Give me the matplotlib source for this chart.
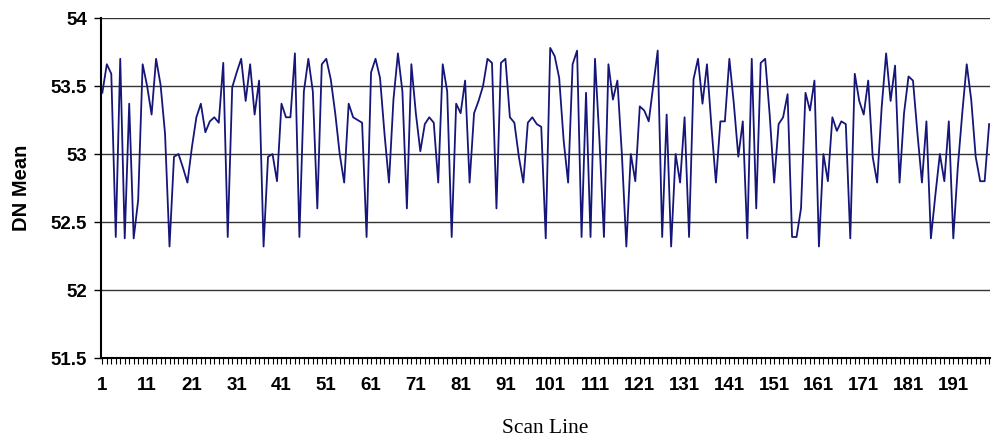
import matplotlib
matplotlib.use("Agg")
import matplotlib.pyplot as plt
import numpy as np

# DN mean per scan line
dn_mean = [
    53.45, 53.66, 53.59, 52.39, 53.70, 52.38, 53.37, 52.38, 52.66, 53.66,   # 1-10
    53.50, 53.29, 53.70, 53.51, 53.15, 52.32, 52.98, 53.00, 52.90, 52.79,   # 11-20
    53.05, 53.27, 53.37, 53.16, 53.24, 53.27, 53.23, 53.67, 52.39, 53.49,   # 21-30
    53.60, 53.70, 53.39, 53.66, 53.29, 53.54, 52.32, 52.98, 53.00, 52.80,   # 31-40
    53.37, 53.27, 53.27, 53.74, 52.39, 53.46, 53.70, 53.46, 52.60, 53.66,   # 41-50
    53.70, 53.55, 53.30, 53.00, 52.79, 53.37, 53.27, 53.25, 53.23, 52.39,   # 51-60
    53.60, 53.70, 53.56, 53.15, 52.79, 53.40, 53.74, 53.46, 52.60, 53.66,   # 61-70
    53.30, 53.02, 53.22, 53.27, 53.23, 52.79, 53.66, 53.46, 52.39, 53.37,   # 71-80
    53.30, 53.54, 52.79, 53.30, 53.39, 53.50, 53.70, 53.67, 52.60, 53.67,   # 81-90
    53.70, 53.27, 53.23, 52.98, 52.79, 53.23, 53.27, 53.22, 53.20, 52.38,   # 91-100
    53.78, 53.72, 53.56, 53.10, 52.79, 53.66, 53.76, 52.39, 53.45, 52.39,   # 101-110
    53.70, 53.10, 52.39, 53.66, 53.40, 53.54, 53.00, 52.32, 53.00, 52.80,   # 111-120
    53.35, 53.32, 53.24, 53.50, 53.76, 52.39, 53.29, 52.32, 53.00, 52.79,   # 121-130
    53.27, 52.39, 53.55, 53.70, 53.37, 53.66, 53.20, 52.79, 53.24, 53.24,   # 131-140
    53.70, 53.37, 52.98, 53.24, 52.38, 53.70, 52.60, 53.67, 53.70, 53.29,   # 141-150
    52.79, 53.22, 53.27, 53.44, 52.39, 52.39, 52.60, 53.45, 53.32, 53.54,   # 151-160
    52.32, 53.00, 52.80, 53.27, 53.17, 53.24, 53.22, 52.38, 53.59, 53.39,   # 161-170
    53.29, 53.54, 52.98, 52.79, 53.34, 53.74, 53.39, 53.65, 52.79, 53.30,   # 171-180
    53.57, 53.54, 53.15, 52.79, 53.24, 52.38, 52.70, 53.00, 52.80, 53.24,   # 181-190
    52.38, 52.90, 53.30, 53.66, 53.40, 52.98, 52.80, 52.80, 53.22,          # 191-199
]
scan_line = list(range(1, len(dn_mean) + 1))
x_tick_labels = [str(v) for v in range(1, 200, 10)]
y_ticks = [51.5, 52, 52.5, 53, 53.5, 54]
y_tick_labels = ["51.5", "52", "52.5", "53", "53.5", "54"]

fig = plt.figure(figsize=(9.93, 4.38), dpi=100)
ax = fig.add_axes([0.1017, 0.1826, 0.8953, 0.7763])

ax.plot(scan_line, dn_mean, color="#16167a", linewidth=1.3, zorder=3)

ax.set_ylim(51.5, 54)
ax.set_xlim(0.7, len(dn_mean) + 0.2)

# horizontal gridlines
for yv in y_ticks[1:]:
    ax.axhline(yv, color="#333333", linewidth=1.0, zorder=1)

ax.set_yticks(y_ticks)
ax.set_yticklabels(y_tick_labels, fontsize=13.5, fontweight="bold",
                   family="Liberation Sans")
ax.set_xticks(list(range(1, len(dn_mean) + 1, 10)))
ax.set_xticklabels(x_tick_labels, fontsize=13.5, fontweight="bold",
                   family="Liberation Sans")
ax.set_xticks(scan_line, minor=True)
ax.tick_params(axis="x", which="major", length=4, width=0.8, direction="out", pad=10)
ax.tick_params(axis="x", which="minor", length=4, width=0.8, direction="out")
ax.tick_params(axis="y", length=5, width=1.0, direction="out", pad=5)

for side in ["top", "right"]:
    ax.spines[side].set_visible(False)
ax.spines["left"].set_linewidth(1.5)
ax.spines["bottom"].set_linewidth(1.5)

ax.set_ylabel("DN Mean", fontsize=14.5, fontweight="bold", family="Liberation Sans",
              labelpad=14)
ax.set_xlabel("Scan Line", fontsize=15.5, family="Liberation Serif", labelpad=18)

fig.savefig("out.png", dpi=100)
